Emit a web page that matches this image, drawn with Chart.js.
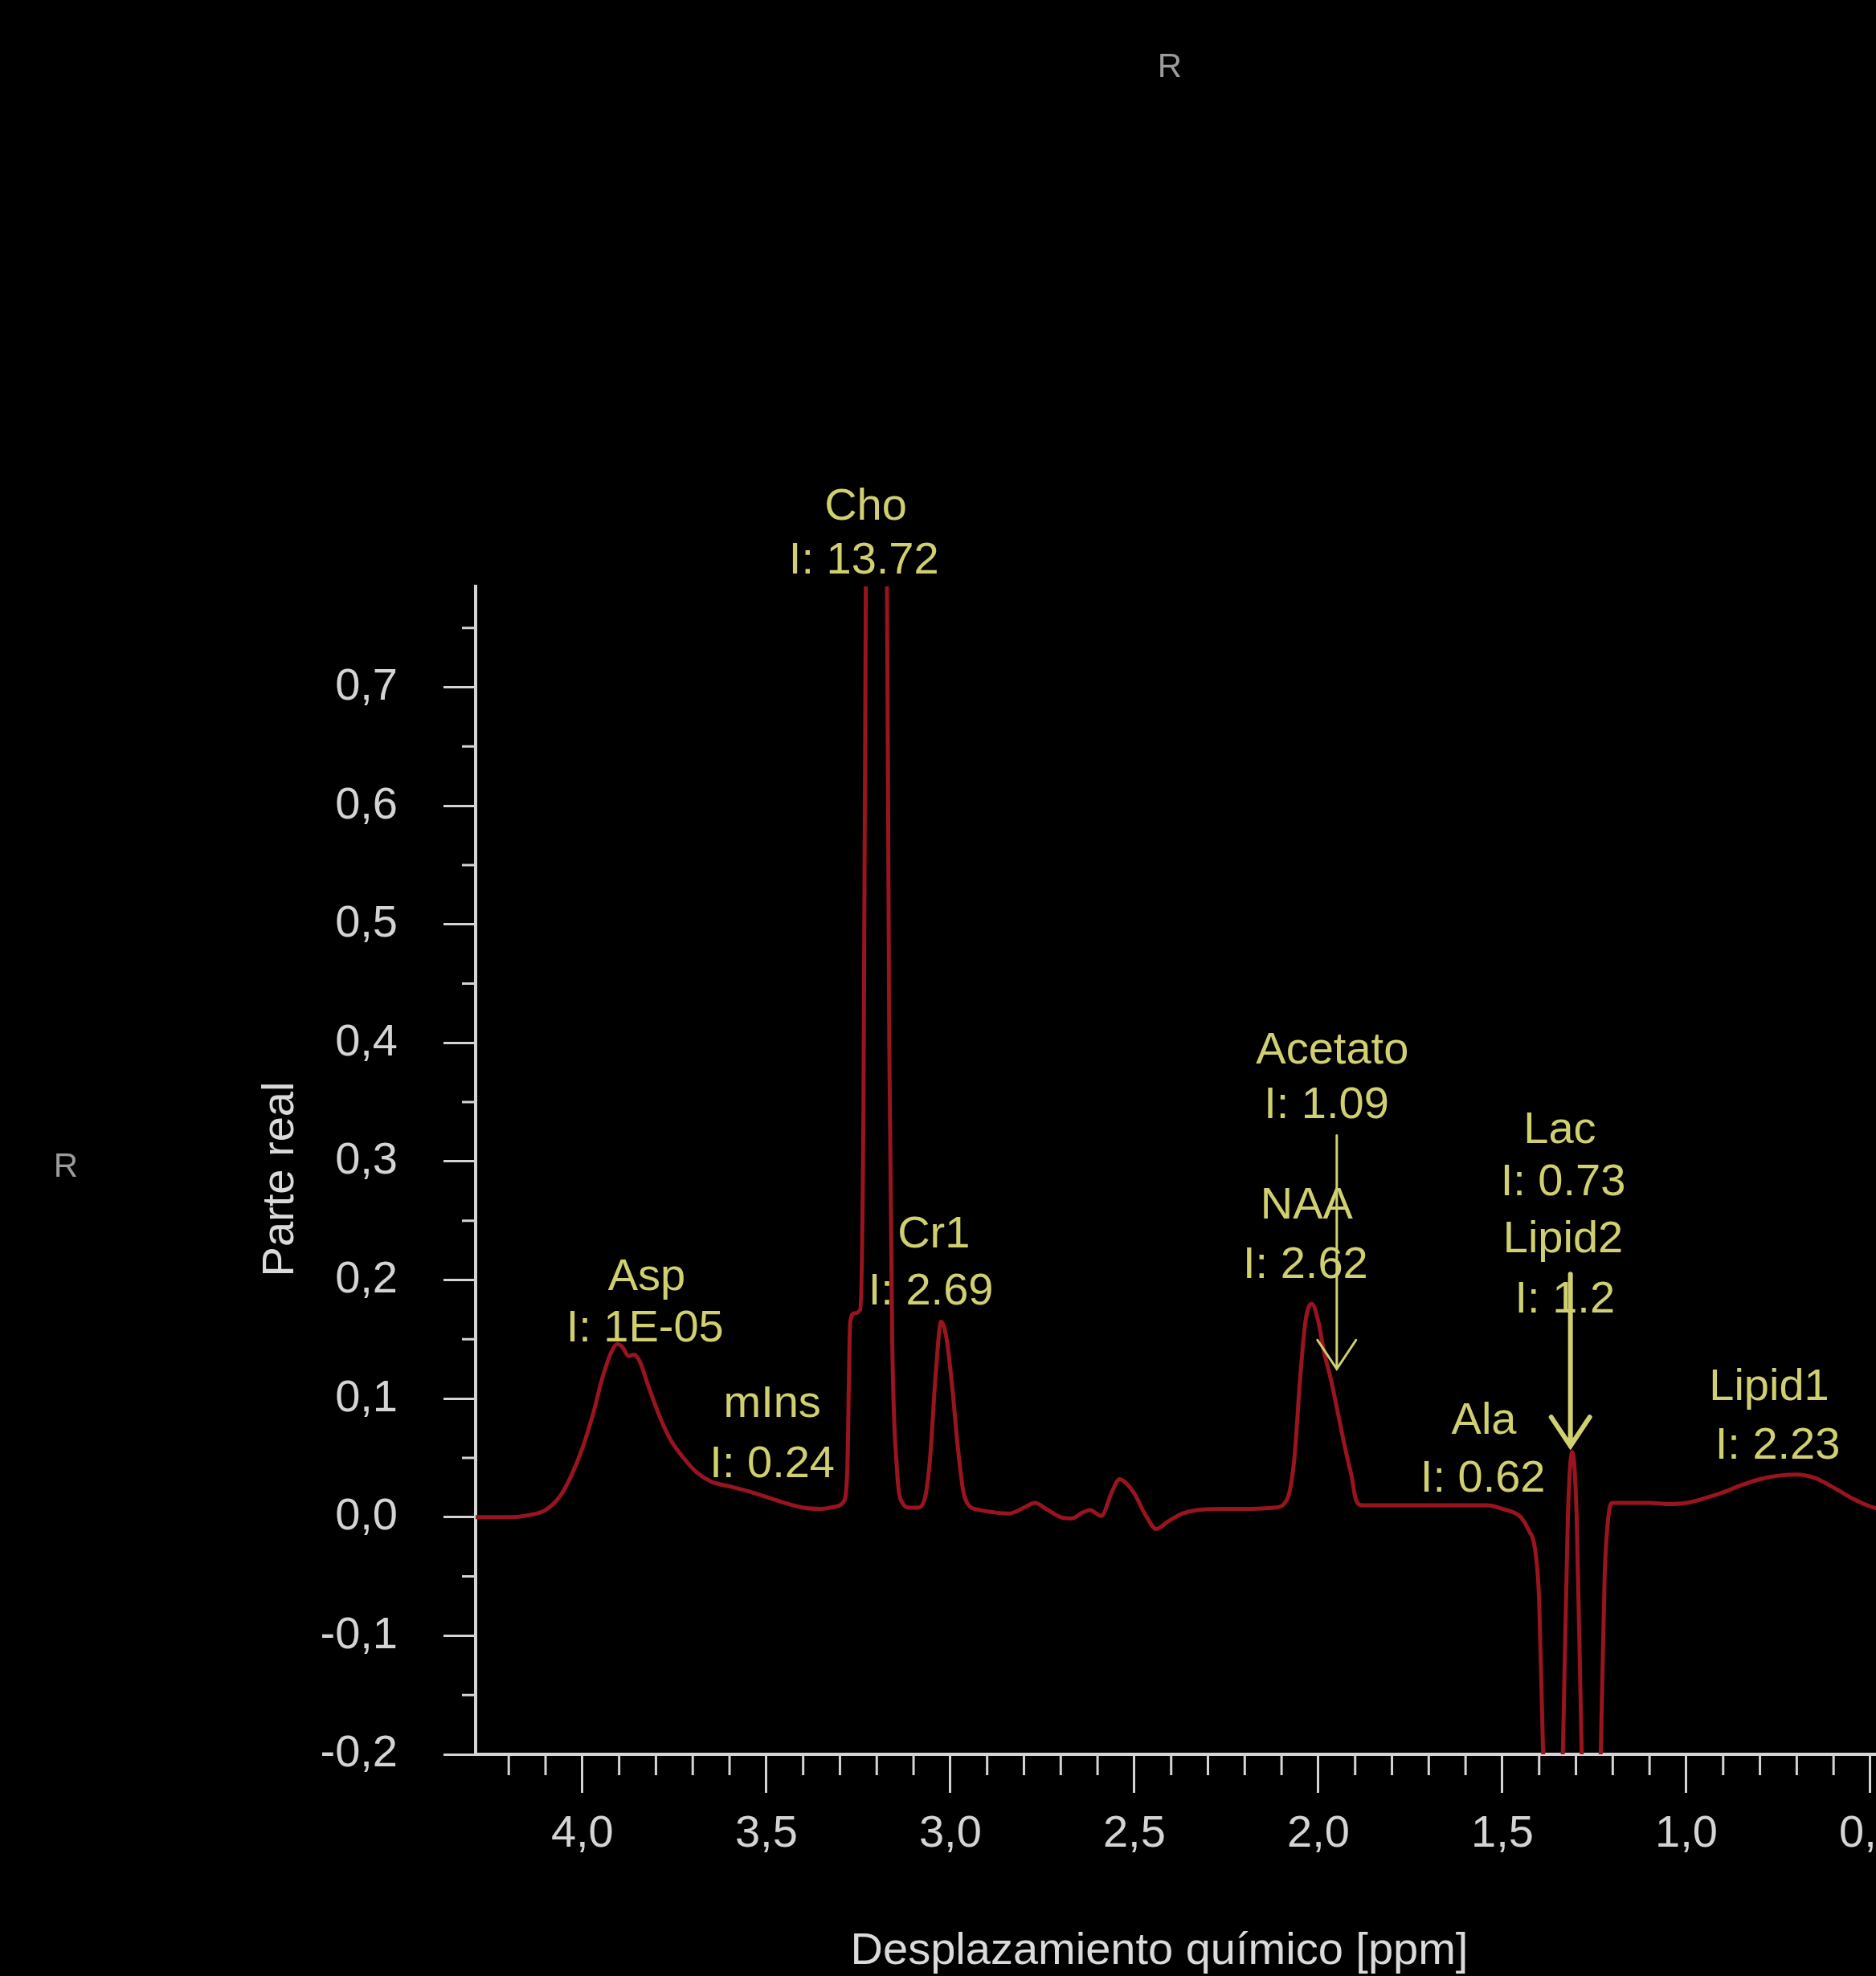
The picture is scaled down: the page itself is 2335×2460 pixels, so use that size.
<!DOCTYPE html>
<html>
<head>
<meta charset="utf-8">
<script src="https://cdn.jsdelivr.net/npm/chart.js@4.4.1/dist/chart.umd.min.js"></script>
<style>
  html, body { margin:0; padding:0; background:#000; overflow:hidden; }
  #wrap { position:relative; width:2620px; height:2460px; }
</style>
</head>
<body>
<div id="wrap"><canvas id="c"></canvas></div>
<script>
// ---------- DATA ----------
const ppm = [4.29,4.20,4.14,4.10,4.06,4.03,4.00,3.97,3.945,3.92,3.905,3.89,3.875,3.86,3.845,3.82,3.79,3.76,3.725,3.69,3.65,3.60,3.55,3.50,3.45,3.40,3.35,3.31,3.29,3.28,3.272,3.26,3.245,3.236,3.228,3.20,3.174,3.166,3.158,3.145,3.13,3.11,3.09,3.07,3.055,3.04,3.025,3.01,2.995,2.98,2.965,2.95,2.92,2.88,2.84,2.80,2.77,2.74,2.70,2.67,2.64,2.62,2.59,2.56,2.54,2.52,2.50,2.47,2.44,2.41,2.37,2.33,2.25,2.18,2.12,2.085,2.065,2.05,2.035,2.018,2.00,1.985,1.965,1.945,1.925,1.91,1.898,1.88,1.80,1.70,1.60,1.54,1.50,1.47,1.45,1.43,1.41,1.40,1.39,1.36,1.335,1.322,1.31,1.298,1.285,1.26,1.232,1.222,1.212,1.20,1.15,1.10,1.05,1.00,0.95,0.90,0.85,0.80,0.75,0.70,0.65,0.60,0.55,0.50,0.45,0.40];
const parteReal = [0.0,0.0,0.002,0.006,0.018,0.035,0.058,0.088,0.118,0.14,0.146,0.143,0.136,0.137,0.132,0.11,0.085,0.065,0.05,0.038,0.03,0.026,0.022,0.017,0.012,0.008,0.007,0.009,0.013,0.04,0.165,0.172,0.175,0.35,0.9,1.6,0.9,0.4,0.15,0.04,0.012,0.008,0.008,0.015,0.05,0.12,0.165,0.15,0.11,0.06,0.022,0.01,0.006,0.004,0.003,0.008,0.012,0.007,0.0,-0.001,0.004,0.006,0.001,0.022,0.032,0.028,0.02,0.002,-0.01,-0.004,0.003,0.006,0.007,0.007,0.008,0.015,0.05,0.115,0.165,0.18,0.165,0.14,0.115,0.085,0.055,0.035,0.015,0.01,0.01,0.01,0.01,0.01,0.007,0.004,0.0,-0.01,-0.03,-0.07,-0.19,-0.45,-0.19,0.0,0.055,0.0,-0.19,-0.45,-0.19,-0.05,0.0,0.012,0.012,0.012,0.011,0.012,0.016,0.021,0.027,0.032,0.035,0.036,0.033,0.025,0.016,0.009,0.005,0.003];

const xMajorTicks = [4.0,3.5,3.0,2.5,2.0,1.5,1.0,0.5,0.0];
const yMajorTicks = [-0.2,-0.1,0.0,0.1,0.2,0.3,0.4,0.5,0.6,0.7];

// metabolite annotations: name, intensity, anchor (ppm, value) of each text line
const annNames  = ['Cho','Asp','mIns','Cr1','Acetato','NAA','Lac','Lipid2','Ala','Lipid1'];
const annInts   = ['I: 13.72','I: 1E-05','I: 0.24','I: 2.69','I: 1.09','I: 2.62','I: 0.73','I: 1.2','I: 0.62','I: 2.23'];
const annNameX  = [3.23,3.825,3.484,3.045,1.962,2.032,1.344,1.335,1.55,0.775];
const annNameY  = [0.852,0.202,0.095,0.238,0.393,0.262,0.326,0.234,0.081,0.109];
const annIntX   = [3.235,3.83,3.484,3.053,1.978,2.035,1.335,1.33,1.553,0.752];
const annIntY   = [0.806,0.159,0.044,0.19,0.347,0.212,0.282,0.183,0.032,0.06];

// arrows: ppm, start value, tip value
const arrowX     = [1.95, 1.315];
const arrowFrom  = [0.322, 0.205];
const arrowTo    = [0.125, 0.06];
const arrowWidth = [3, 6];

const xTitle = 'Desplazamiento químico [ppm]';
const yTitle = 'Parte real';
const topTitle = 'R';
const sideTitle = 'R';

// ---------- STYLE ----------
const FONT = '"Liberation Sans", Arial, sans-serif';
const AXIS_COLOR = '#d4d4d4';
const LINE_COLOR = 'rgb(152,20,30)';
const ANN_COLOR = 'rgb(208,208,112)';

const fmt = v => v.toFixed(1).replace('.', ',');

const extras = {
  id: 'extras',
  afterDatasetsDraw(chart) {
    const {ctx, scales:{x, y}} = chart;
    ctx.save();
    // arrows
    ctx.strokeStyle = ANN_COLOR;
    ctx.lineCap = 'round';
    for (let i = 0; i < arrowX.length; i++) {
      const px = x.getPixelForValue(arrowX[i]);
      const y0 = y.getPixelForValue(arrowFrom[i]);
      const y1 = y.getPixelForValue(arrowTo[i]);
      ctx.lineWidth = arrowWidth[i];
      ctx.beginPath();
      ctx.moveTo(px, y0); ctx.lineTo(px, y1);
      ctx.moveTo(px - 24, y1 - 36); ctx.lineTo(px, y1); ctx.lineTo(px + 24, y1 - 36);
      ctx.stroke();
    }
    // labels
    ctx.fillStyle = ANN_COLOR;
    ctx.font = '56px ' + FONT;
    ctx.textAlign = 'center';
    ctx.textBaseline = 'middle';
    for (let i = 0; i < annNames.length; i++) {
      ctx.fillText(annNames[i], x.getPixelForValue(annNameX[i]), y.getPixelForValue(annNameY[i]));
      ctx.fillText(annInts[i], x.getPixelForValue(annIntX[i]), y.getPixelForValue(annIntY[i]));
    }
    ctx.restore();
  },
  afterDraw(chart) {
    const {ctx, scales:{x, y}} = chart;
    ctx.save();
    // minor ticks
    ctx.strokeStyle = AXIS_COLOR;
    ctx.lineWidth = 3;
    ctx.beginPath();
    for (let k = 1; k <= 42; k++) {
      if (k % 5 === 0) continue;
      const v = k / 10;
      if (v > x.max) continue;
      const px = x.getPixelForValue(v);
      ctx.moveTo(px, y.bottom); ctx.lineTo(px, y.bottom + 26);
    }
    for (let k = -3; k <= 15; k += 2) {
      const v = k / 20;
      if (v < y.min || v > y.max) continue;
      const py = y.getPixelForValue(v);
      ctx.moveTo(x.left - 17, py); ctx.lineTo(x.left, py);
    }
    ctx.stroke();
    // titles
    ctx.fillStyle = '#dadada';
    ctx.font = '56px ' + FONT;
    ctx.textAlign = 'center';
    ctx.textBaseline = 'middle';
    ctx.fillText(xTitle, 1443, 2430);
    ctx.save();
    ctx.translate(350, 1468);
    ctx.rotate(-Math.PI / 2);
    ctx.fillText(yTitle, 0, 0);
    ctx.restore();
    ctx.fillStyle = '#9c9c9c';
    ctx.font = '42px ' + FONT;
    ctx.fillText(topTitle, 1456, 84);
    ctx.fillText(sideTitle, 82, 1453);
    ctx.restore();
  }
};

new Chart(document.getElementById('c'), {
  type: 'line',
  data: {
    datasets: [{
      label: yTitle,
      data: ppm.map((p, i) => ({x: p, y: parteReal[i]})),
      borderColor: LINE_COLOR,
      borderWidth: 5,
      pointRadius: 0,
      cubicInterpolationMode: 'monotone',
      fill: false
    }]
  },
  options: {
    responsive: true,
    maintainAspectRatio: false,
    animation: false,
    layout: { padding: { top: 730, right: 63, left: 0, bottom: 0 } },
    plugins: { legend: { display: false }, tooltip: { enabled: false } },
    scales: {
      x: {
        type: 'linear',
        reverse: true,
        min: 0.0,
        max: 4.29,
        afterBuildTicks(s) { s.ticks = xMajorTicks.map(v => ({value: v})); },
        afterFit(s) { s.height = 276; },
        ticks: {
          autoSkip: false, maxRotation: 0,
          color: AXIS_COLOR, padding: 18,
          font: { family: FONT, size: 56 },
          callback: v => fmt(v)
        },
        grid: { drawOnChartArea: false, tickLength: 48, tickWidth: 3, tickColor: AXIS_COLOR },
        border: { color: AXIS_COLOR, width: 4 }
      },
      y: {
        type: 'linear',
        min: -0.2,
        max: 0.785,
        afterBuildTicks(s) { s.ticks = yMajorTicks.map(v => ({value: v})); },
        afterFit(s) { s.width = 592; },
        ticks: {
          autoSkip: false,
          color: AXIS_COLOR, padding: 57,
          font: { family: FONT, size: 56 },
          callback: v => fmt(v)
        },
        grid: { drawOnChartArea: false, tickLength: 40, tickWidth: 3, tickColor: AXIS_COLOR },
        border: { color: AXIS_COLOR, width: 4 }
      }
    }
  },
  plugins: [extras]
});
</script>
</body>
</html>
